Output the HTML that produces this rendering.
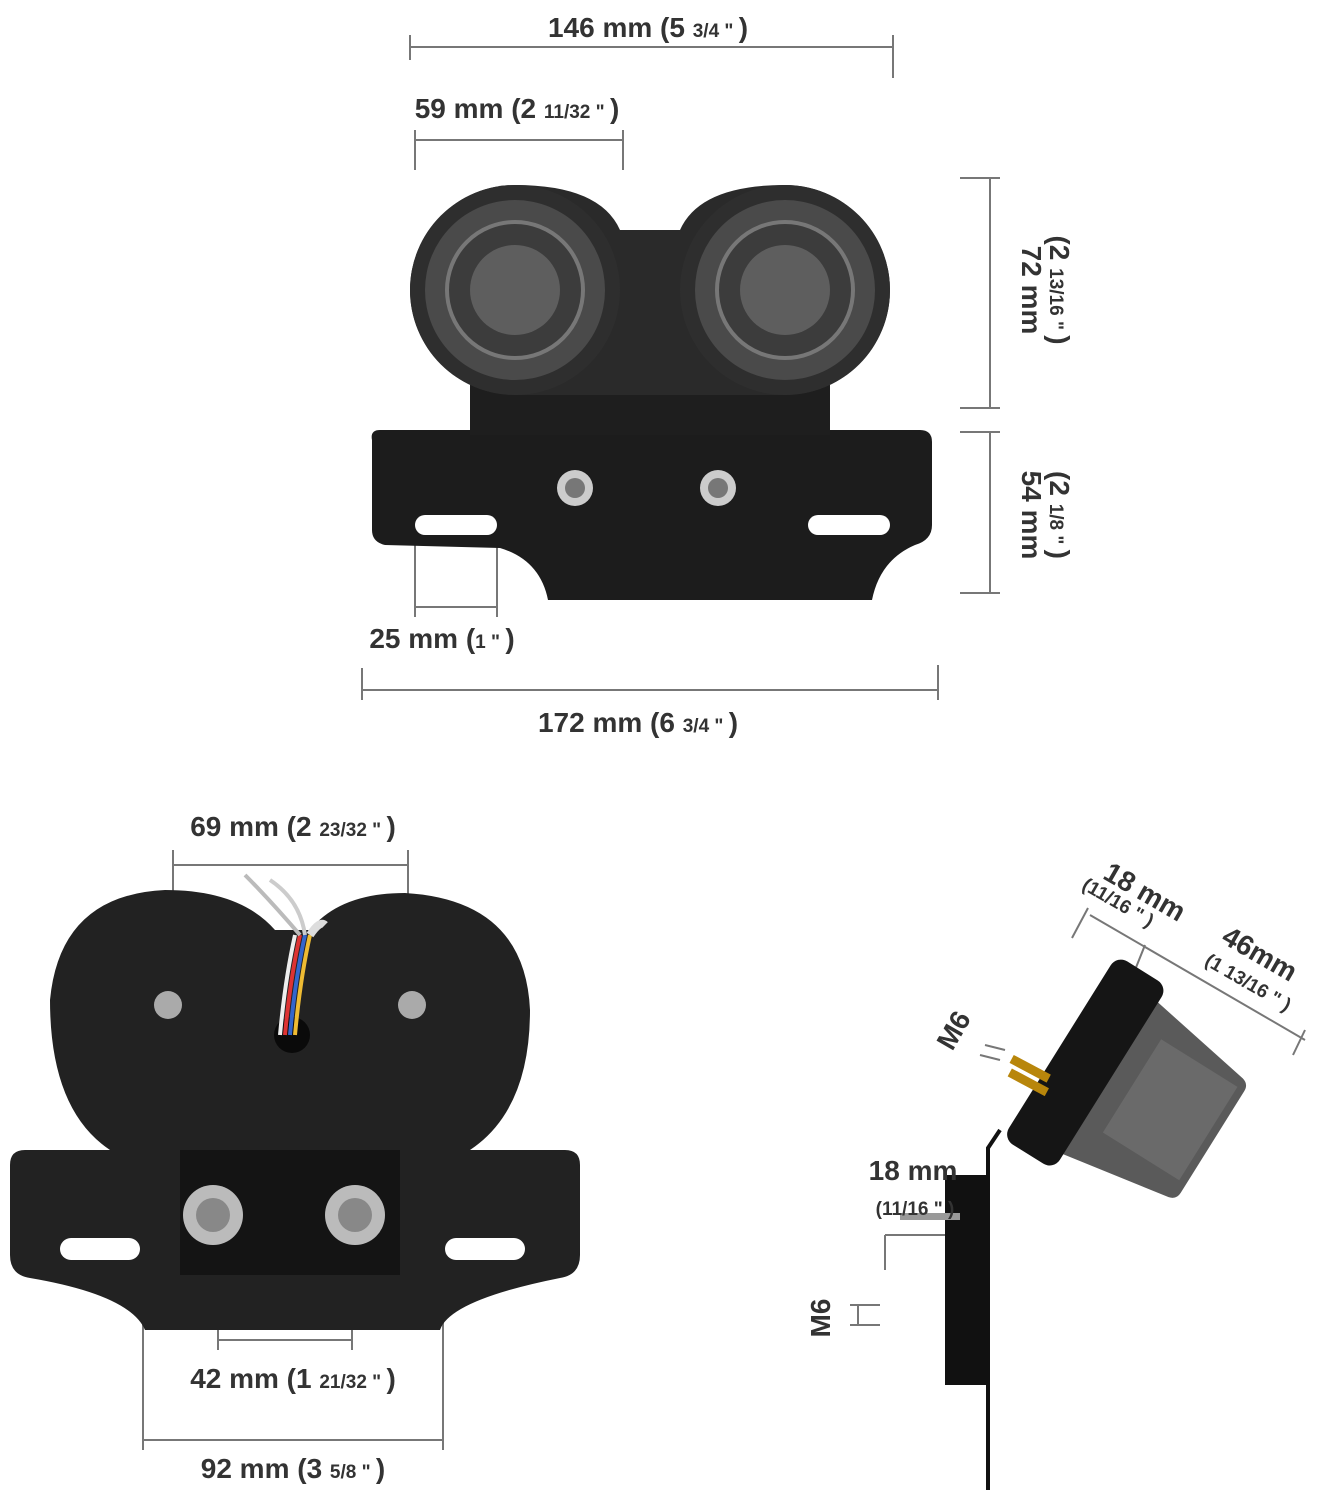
<!DOCTYPE html>
<html><head><meta charset="utf-8"><style>
html,body{margin:0;padding:0;background:#fff;}
svg{display:block}
text{font-family:"Liberation Sans",sans-serif;fill:#333;font-size:28px;font-weight:bold;}
.s{font-size:19px}
</style></head><body>
<svg width="1319" height="1500" viewBox="0 0 1319 1500" xmlns="http://www.w3.org/2000/svg">
<g stroke="#777" stroke-width="2" fill="none">
<line x1="410" y1="47" x2="893" y2="47"/><line x1="410" y1="35" x2="410" y2="60"/><line x1="893" y1="35" x2="893" y2="78"/>
<line x1="415" y1="140" x2="623" y2="140"/><line x1="415" y1="130" x2="415" y2="170"/><line x1="623" y1="130" x2="623" y2="170"/>
<line x1="990" y1="178" x2="990" y2="408"/><line x1="960" y1="178" x2="1000" y2="178"/><line x1="960" y1="408" x2="1000" y2="408"/>
<line x1="990" y1="432" x2="990" y2="593"/><line x1="960" y1="432" x2="1000" y2="432"/><line x1="960" y1="593" x2="1000" y2="593"/>
<line x1="415" y1="535" x2="415" y2="617"/><line x1="497" y1="535" x2="497" y2="617"/><line x1="415" y1="607" x2="497" y2="607"/>
<line x1="362" y1="690" x2="938" y2="690"/><line x1="362" y1="668" x2="362" y2="700"/><line x1="938" y1="665" x2="938" y2="700"/>
<line x1="173" y1="865" x2="408" y2="865"/><line x1="173" y1="850" x2="173" y2="990"/><line x1="408" y1="850" x2="408" y2="990"/>
<line x1="218" y1="1340" x2="352" y2="1340"/><line x1="218" y1="1240" x2="218" y2="1350"/><line x1="352" y1="1240" x2="352" y2="1350"/>
<line x1="143" y1="1440" x2="443" y2="1440"/><line x1="143" y1="1260" x2="143" y2="1450"/><line x1="443" y1="1260" x2="443" y2="1450"/>
<line x1="1090" y1="915" x2="1305" y2="1040"/><line x1="1088" y1="908" x2="1072" y2="938"/><line x1="1145" y1="945" x2="1133" y2="975"/><line x1="1305" y1="1030" x2="1293" y2="1055"/>
<line x1="885" y1="1235" x2="960" y2="1235"/><line x1="885" y1="1235" x2="885" y2="1270"/><line x1="960" y1="1230" x2="960" y2="1250"/>
<line x1="850" y1="1305" x2="880" y2="1305"/><line x1="850" y1="1325" x2="880" y2="1325"/><line x1="858" y1="1305" x2="858" y2="1325"/>
<line x1="985" y1="1045" x2="1005" y2="1050"/><line x1="980" y1="1055" x2="1000" y2="1060"/>
</g>
<path d="M372 440 Q370 430 380 430 L920 430 Q932 430 932 442 L932 525 Q932 540 915 545 Q880 560 872 600 L548 600 Q540 560 500 548 L385 545 Q372 542 372 530 Z" fill="#1c1c1c"/>
<rect x="470" y="385" width="360" height="50" fill="#1e1e1e"/>
<path d="M515 185 Q600 185 620 230 L680 230 Q700 185 785 185 A105 105 0 0 1 785 395 L515 395 A105 105 0 0 1 515 185Z" fill="#2a2a2a"/>
<circle cx="515" cy="290" r="105" fill="#2e2e2e"/><circle cx="785" cy="290" r="105" fill="#2e2e2e"/>
<circle cx="515" cy="290" r="90" fill="#4a4a4a"/><circle cx="785" cy="290" r="90" fill="#4a4a4a"/>
<circle cx="515" cy="290" r="68" fill="#3c3c3c" stroke="#777" stroke-width="4"/><circle cx="785" cy="290" r="68" fill="#3c3c3c" stroke="#777" stroke-width="4"/>
<circle cx="515" cy="290" r="45" fill="#5e5e5e"/><circle cx="785" cy="290" r="45" fill="#5e5e5e"/>
<rect x="415" y="515" width="82" height="20" rx="10" fill="#fff"/><rect x="808" y="515" width="82" height="20" rx="10" fill="#fff"/>
<circle cx="575" cy="488" r="18" fill="#ccc"/><circle cx="575" cy="488" r="10" fill="#777"/>
<circle cx="718" cy="488" r="18" fill="#ccc"/><circle cx="718" cy="488" r="10" fill="#777"/>
<path d="M10 1165 Q10 1150 25 1150 L110 1150 Q50 1110 50 1000 Q60 895 165 890 Q240 890 275 930 L310 930 Q340 893 405 893 Q525 900 530 1010 Q530 1110 470 1150 L565 1150 Q580 1150 580 1165 L580 1255 Q580 1275 560 1278 Q450 1300 440 1330 L145 1330 Q130 1295 30 1278 Q10 1275 10 1255Z" fill="#222"/>
<rect x="180" y="1150" width="220" height="125" fill="#141414"/>
<rect x="60" y="1238" width="80" height="22" rx="11" fill="#fff"/><rect x="445" y="1238" width="80" height="22" rx="11" fill="#fff"/>
<circle cx="213" cy="1215" r="30" fill="#bbb"/><circle cx="213" cy="1215" r="17" fill="#888"/>
<circle cx="355" cy="1215" r="30" fill="#bbb"/><circle cx="355" cy="1215" r="17" fill="#888"/>
<circle cx="168" cy="1005" r="14" fill="#aaa"/><circle cx="412" cy="1005" r="14" fill="#aaa"/>
<circle cx="292" cy="1035" r="18" fill="#0a0a0a"/>
<g stroke-width="4" fill="none">
<path d="M285 1035 Q290 980 300 935" stroke="#d33"/><path d="M290 1035 Q295 980 305 935" stroke="#36c"/><path d="M295 1035 Q300 980 310 935" stroke="#eb3"/><path d="M280 1035 Q285 980 295 935" stroke="#eee"/>
<path d="M300 935 Q270 900 245 875" stroke="#bbb"/><path d="M305 935 Q300 900 270 880" stroke="#ccc"/><path d="M310 935 Q320 920 325 925" stroke="#ddd" stroke-width="8"/>
</g>
<path d="M1000 1130 L988 1148 L988 1490" stroke="#111" stroke-width="4" fill="none"/>
<rect x="945" y="1175" width="42" height="210" fill="#111"/>
<rect x="900" y="1213" width="60" height="7" fill="#999"/>
<g transform="translate(1070 1053) rotate(32)">
<path d="M45 -90 L160 -70 Q168 -68 168 -60 L168 60 Q168 68 160 70 L45 90 Z" fill="#5a5a5a"/>
<rect x="70" y="-60" width="90" height="110" fill="#6a6a6a"/>
<rect x="-12" y="-108" width="60" height="216" rx="12" fill="#151515"/>
</g>
<rect x="1008" y="1062" width="42" height="9" fill="#b8860b" transform="rotate(28 1025 1070)"/>
<rect x="1008" y="1076" width="42" height="9" fill="#b8860b" transform="rotate(28 1025 1080)"/>
<text x="648" y="37" text-anchor="middle">146 mm (5 <tspan class="s">3/4 " </tspan>)</text>
<text x="517" y="118" text-anchor="middle">59 mm (2 <tspan class="s">11/32 " </tspan>)</text>
<text transform="translate(1022 290) rotate(90)" text-anchor="middle">72 mm</text>
<text transform="translate(1050 290) rotate(90)" text-anchor="middle">(2 <tspan class="s">13/16 " </tspan>)</text>
<text transform="translate(1022 515) rotate(90)" text-anchor="middle">54 mm</text>
<text transform="translate(1050 515) rotate(90)" text-anchor="middle">(2 <tspan class="s">1/8 " </tspan>)</text>
<text x="442" y="648" text-anchor="middle">25 mm (<tspan class="s">1 " </tspan>)</text>
<text x="638" y="732" text-anchor="middle">172 mm (6 <tspan class="s">3/4 " </tspan>)</text>
<text x="293" y="836" text-anchor="middle">69 mm (2 <tspan class="s">23/32 " </tspan>)</text>
<text x="293" y="1388" text-anchor="middle">42 mm (1 <tspan class="s">21/32 " </tspan>)</text>
<text x="293" y="1478" text-anchor="middle">92 mm (3 <tspan class="s">5/8 " </tspan>)</text>
<text x="913" y="1180" text-anchor="middle">18 mm</text>
<text x="915" y="1215" text-anchor="middle" class="s">(11/16 " )</text>
<text transform="translate(1140 900) rotate(30)" text-anchor="middle">18 mm</text>
<text transform="translate(1115 908) rotate(30)" text-anchor="middle" class="s">(11/16 " )</text>
<text transform="translate(1255 962) rotate(30)" text-anchor="middle">46mm</text>
<text transform="translate(1245 988) rotate(30)" text-anchor="middle" class="s">(1 13/16 " )</text>
<text transform="translate(962 1035) rotate(-60)" text-anchor="middle" font-size="22">M6</text>
<text transform="translate(830 1318) rotate(-90)" text-anchor="middle" font-size="22">M6</text>
</svg>
</body></html>
